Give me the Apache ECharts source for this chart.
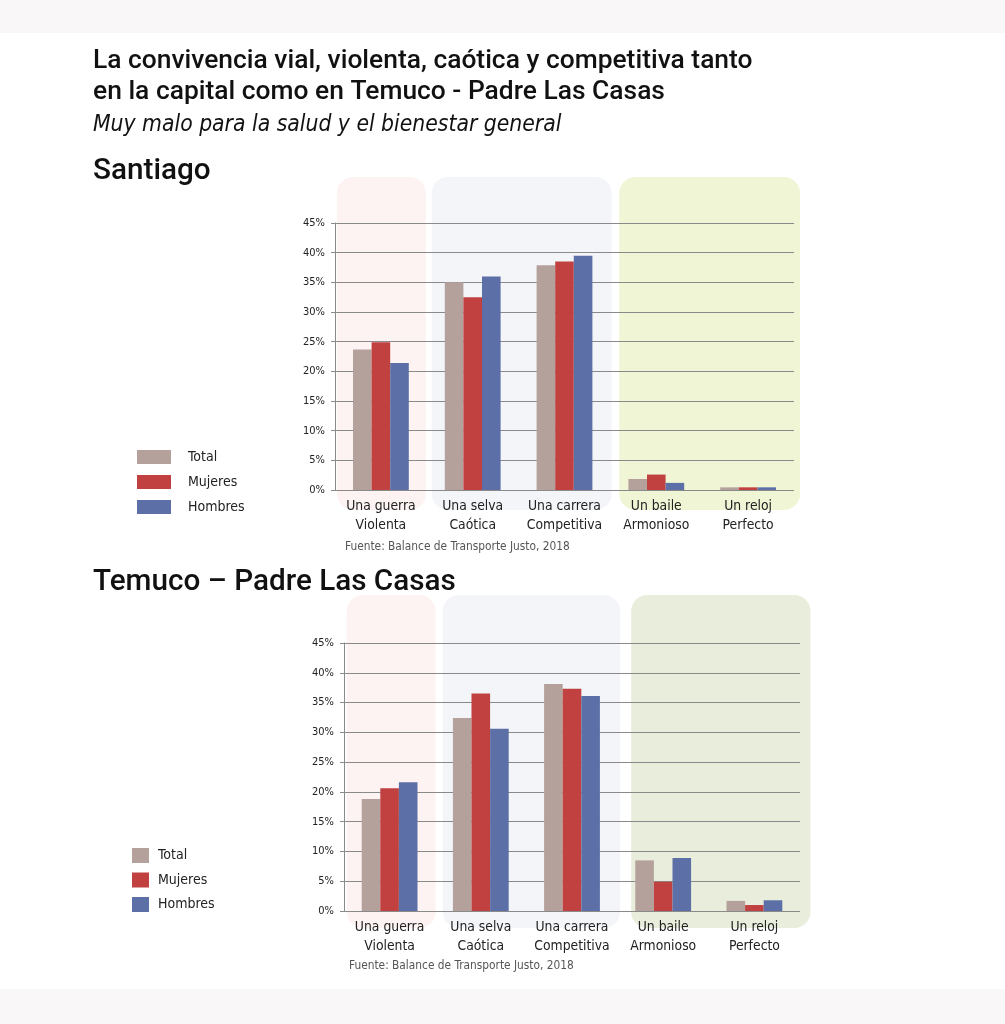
<!DOCTYPE html>
<html><head><meta charset="utf-8">
<script src="https://cdn.jsdelivr.net/npm/echarts@6/dist/echarts.min.js"></script>
<style>html,body{margin:0;padding:0;background:#fff}#c{width:1005px;height:1024px}</style>
</head><body><div id="c"></div>
<script>
// ---- data ----
const categories = ['Una guerra\nViolenta', 'Una selva\nCaótica', 'Una carrera\nCompetitiva', 'Un baile\nArmonioso', 'Un reloj\nPerfecto'];
const seriesNames = ['Total', 'Mujeres', 'Hombres'];
const santiagoTotal   = [23.7, 35.0, 37.9, 1.85, 0.45];
const santiagoMujeres = [24.9, 32.5, 38.5, 2.6, 0.45];
const santiagoHombres = [21.4, 36.0, 39.5, 1.2, 0.45];
const temucoTotal   = [18.8, 32.4, 38.1, 8.5, 1.7];
const temucoMujeres = [20.6, 36.5, 37.3, 4.9, 1.0];
const temucoHombres = [21.6, 30.6, 36.1, 8.9, 1.8];
const yMin = 0, yMax = 45, yStep = 5;
const titleLine1 = 'La convivencia vial, violenta, caótica y competitiva tanto';
const titleLine2 = 'en la capital como en Temuco - Padre Las Casas';
const subtitle = 'Muy malo para la salud y el bienestar general';
const heading1 = 'Santiago';
const heading2 = 'Temuco – Padre Las Casas';
const sourceText = 'Fuente: Balance de Transporte Justo, 2018';

// ---- styles ----
const colors = ['#b5a19b', '#c0413f', '#5c6fa6'];
const narrow = "'Liberation Sans Narrow','DejaVu Sans Condensed','Open Sans',sans-serif";
const head = "Roboto,'Noto Sans',sans-serif";

const chart = echarts.init(document.getElementById('c'), null, {renderer: 'canvas'});

function xAxis(gi) {
  return {
    type: 'category', gridIndex: gi, data: categories,
    axisLine: {show: false}, axisTick: {show: false},
    axisLabel: {interval: 0, color: '#222', fontFamily: narrow, fontSize: 13.8, lineHeight: 19, margin: 7}
  };
}
function yAxis(gi) {
  return {
    type: 'value', gridIndex: gi, min: yMin, max: yMax, interval: yStep,
    axisLine: {show: true, lineStyle: {color: '#8a8a8a', width: 1}},
    axisTick: {show: true, length: 4, lineStyle: {color: '#8a8a8a'}},
    splitLine: {show: true, lineStyle: {color: '#8a8a8a', width: 1}},
    axisLabel: {formatter: '{value}%', color: '#222', fontFamily: narrow, fontSize: 11, margin: 10}
  };
}
function bars(name, data, gi, ci) {
  return {
    type: 'bar', name: name, data: data, xAxisIndex: gi, yAxisIndex: gi,
    barWidth: 18.6, barGap: '0%', itemStyle: {color: colors[ci]}, z: 3
  };
}

chart.setOption({
  animation: false,
  color: colors,
  grid: [
    {left: 335, top: 223, width: 459, height: 267},
    {left: 344, top: 643, width: 456, height: 268}
  ],
  xAxis: [xAxis(0), xAxis(1)],
  yAxis: [yAxis(0), yAxis(1)],
  legend: [
    {data: seriesNames, orient: 'vertical', left: 137, top: 450, padding: 0, itemWidth: 34, itemHeight: 14, itemGap: 11,
     icon: 'rect', selectedMode: false,
     textStyle: {fontFamily: narrow, fontSize: 14, color: '#222', padding: [0, 0, 0, 12]}},
    {data: seriesNames, orient: 'vertical', left: 132, top: 848, padding: 0, itemWidth: 17, itemHeight: 15, itemGap: 9.5,
     icon: 'rect', selectedMode: false,
     textStyle: {fontFamily: narrow, fontSize: 14, color: '#222', padding: [0, 0, 0, 4]}}
  ],
  series: [
    bars(seriesNames[0], santiagoTotal, 0, 0),
    bars(seriesNames[1], santiagoMujeres, 0, 1),
    bars(seriesNames[2], santiagoHombres, 0, 2),
    bars(seriesNames[0], temucoTotal, 1, 0),
    bars(seriesNames[1], temucoMujeres, 1, 1),
    bars(seriesNames[2], temucoHombres, 1, 2)
  ]
});

// background panels derived from the category axis
const panels = [
  // [grid, firstCat, lastCat, padLeft, padRight, color, top, bottom]
  [0, 0, 0, 44, 45, '#fdf3f3', 177, 510],
  [0, 1, 2, 41, 47, '#f3f5f9', 177, 510],
  [0, 3, 4, 37, 52, '#eff5d5', 177, 510],
  [1, 0, 0, 43, 46, '#fdf3f3', 595, 928],
  [1, 1, 2, 38, 48, '#f3f5f9', 595, 928],
  [1, 3, 4, 32, 56, '#e8eedb', 595, 928]
];
const els = [
  {type: 'rect', shape: {x: 0, y: 0, width: 1005, height: 33}, style: {fill: '#f9f7f8'}, z: -20, silent: true},
  {type: 'rect', shape: {x: 0, y: 989, width: 1005, height: 35}, style: {fill: '#f9f7f8'}, z: -20, silent: true}
];
panels.forEach(p => {
  const x1 = chart.convertToPixel({xAxisIndex: p[0]}, categories[p[1]]) - p[3];
  const x2 = chart.convertToPixel({xAxisIndex: p[0]}, categories[p[2]]) + p[4];
  els.push({type: 'rect', shape: {x: x1, y: p[6], width: x2 - x1, height: p[7] - p[6], r: 16},
            style: {fill: p[5]}, z: -10, silent: true});
});
function txt(t, x, y, font, fill) {
  els.push({type: 'text', x: x, y: y, style: {text: t, font: font, fill: fill || '#111', textVerticalAlign: 'middle'}, z: 10});
}
txt(titleLine1, 93, 61, "500 26.4px " + head);
txt(titleLine2, 93, 92, "500 26.4px " + head);
txt(subtitle, 93, 125.5, "italic 22.7px " + narrow, '#111');
txt(heading1, 93, 171.5, "500 29.7px " + head);
txt(heading2, 93, 582.5, "500 29.7px " + head);
txt(sourceText, 345, 547, "11.8px " + narrow, '#555');
txt(sourceText, 349, 966, "11.8px " + narrow, '#555');
chart.setOption({graphic: {elements: els}});
</script>
</body></html>
